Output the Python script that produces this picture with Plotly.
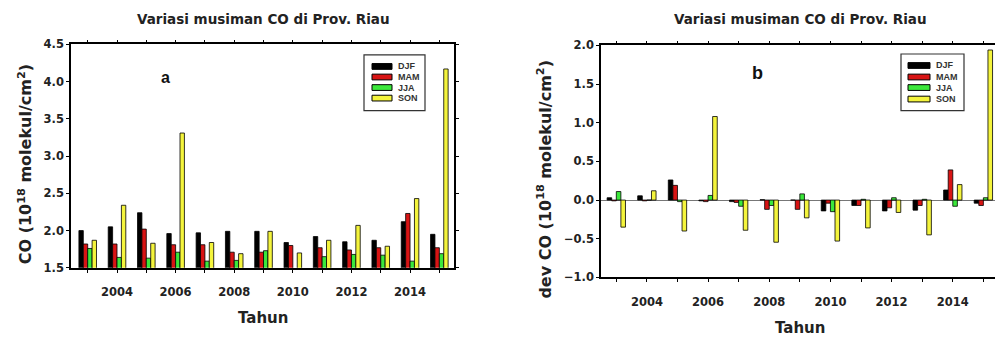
import plotly.graph_objects as go

W, H = 995, 341

years = [2003, 2004, 2005, 2006, 2007, 2008, 2009, 2010, 2011, 2012, 2013, 2014, 2015]
label_years = [2004, 2006, 2008, 2010, 2012, 2014]
seasons = ["DJF", "MAM", "JJA", "SON"]
colors = {"DJF": "#000000", "MAM": "#d81414", "JJA": "#3be83b", "SON": "#f4f43c"}

# Panel a: seasonal CO (10^18 molekul/cm^2)
co_djf = [2.00, 2.05, 2.24, 1.96, 1.97, 1.99, 1.99, 1.84, 1.92, 1.85, 1.87, 2.12, 1.95]
co_mam = [1.82, 1.82, 2.02, 1.81, 1.81, 1.71, 1.71, 1.80, 1.77, 1.74, 1.77, 2.23, 1.77]
co_jja = [1.76, 1.64, 1.63, 1.71, 1.59, 1.60, 1.73, 1.49, 1.65, 1.68, 1.67, 1.59, 1.69]
co_son = [1.87, 2.34, 1.83, 3.31, 1.84, 1.69, 1.99, 1.70, 1.87, 2.07, 1.79, 2.43, 4.17]

# Panel b: deviation of CO
dev_djf = [0.03, 0.055, 0.26, -0.01, -0.02, 0.005, 0.0, -0.14, -0.07, -0.14, -0.13, 0.13, -0.04]
dev_mam = [-0.01, -0.01, 0.19, -0.02, -0.03, -0.12, -0.12, -0.04, -0.07, -0.10, -0.07, 0.39, -0.07]
dev_jja = [0.11, 0.0, -0.02, 0.06, -0.08, -0.07, 0.08, -0.15, 0.01, 0.03, 0.01, -0.08, 0.03]
dev_son = [-0.35, 0.12, -0.40, 1.08, -0.39, -0.545, -0.23, -0.53, -0.36, -0.16, -0.45, 0.20, 1.94]

co = {"DJF": co_djf, "MAM": co_mam, "JJA": co_jja, "SON": co_son}
dev = {"DJF": dev_djf, "MAM": dev_mam, "JJA": dev_jja, "SON": dev_son}

def px(x):
    return x / W

def py(y):
    return 1 - y / H

fig = go.Figure()
for s in seasons:
    fig.add_trace(go.Bar(x=years, y=co[s], name=s, marker=dict(color=colors[s], line=dict(color="#000000", width=0.8)),
                         xaxis="x", yaxis="y", showlegend=False))
for s in seasons:
    fig.add_trace(go.Bar(x=years, y=dev[s], name=s, marker=dict(color=colors[s], line=dict(color="#000000", width=0.8)),
                         xaxis="x2", yaxis="y2", showlegend=False))

tickfont = dict(family="DejaVu Sans", size=11.5, color="#222222", weight="bold")
axis_common = dict(showline=True, linecolor="#000000", linewidth=1.5, ticks="outside", ticklen=3,
                   tickcolor="#000000", showgrid=False, tickfont=tickfont)
xminor = dict(dtick=1, tick0=2003, ticks="outside", ticklen=3, tickcolor="#000000", showgrid=False)

fig.update_layout(
    width=W, height=H, margin=dict(l=0, r=0, t=0, b=0),
    paper_bgcolor="white", plot_bgcolor="white",
    barmode="group", bargap=0.4, bargroupgap=0,
    xaxis=dict(domain=[px(71), px(454)], range=[2002.43, 2015.5], tickmode="array", tickvals=label_years,
               minor=xminor, mirror="ticks", anchor="y", zeroline=False, ticklabelstandoff=10, **axis_common),
    yaxis=dict(domain=[py(272), py(39)], range=[1.5, 4.5], dtick=0.5, tickformat=".1f",
               mirror="ticks", anchor="x", zeroline=False, **axis_common),
    xaxis2=dict(domain=[px(601), 1.0], range=[2002.5, 2015.38], tickmode="array", tickvals=label_years,
                minor=xminor, mirror="ticks", anchor="y2", zeroline=False, ticklabelstandoff=10, **axis_common),
    yaxis2=dict(domain=[py(282), py(40)], range=[-1.0, 2.0], dtick=0.5, tickformat=".1f",
                mirror=False, anchor="x2", zeroline=True, zerolinecolor="#777777", zerolinewidth=1.2,
                **axis_common),
)

ann = []
tfont = dict(family="DejaVu Sans", size=13.5, color="#222222")
ann.append(dict(text="<b>Variasi musiman CO di Prov. Riau</b>", x=px(263), y=py(12), font=tfont))
ann.append(dict(text="<b>Variasi musiman CO di Prov. Riau</b>", x=px(800), y=py(13), font=tfont))
afont = dict(family="DejaVu Sans", size=15, color="#222222")
ann.append(dict(text="<b>Tahun</b>", x=px(263), y=py(324), font=afont))
ann.append(dict(text="<b>Tahun</b>", x=px(800), y=py(335), font=afont))
yfont = dict(family="DejaVu Sans", size=16, color="#222222")
ann.append(dict(text="<b>CO (10<sup>18</sup> molekul/cm<sup>2</sup>)</b>", x=px(25), y=py(164), textangle=-90, font=yfont))
ann.append(dict(text="<b>dev CO (10<sup>18</sup> molekul/cm<sup>2</sup>)</b>", x=px(545), y=py(180), textangle=-90,
                font=dict(family="DejaVu Sans", size=16, color="#222222")))
ann.append(dict(text="<b>a</b>", x=px(165), y=py(74), font=dict(family="Liberation Sans", size=16, color="#111111")))
ann.append(dict(text="<b>b</b>", x=px(757), y=py(69), font=dict(family="Liberation Sans", size=18, color="#111111")))

shapes = []
# manual legends
legends = [
    dict(box=(364, 50, 425, 108), sw=(372, 392), ys=[62, 73, 84, 95], tx=396),
    dict(box=(901, 49, 964, 108), sw=(908, 930), ys=[61, 73, 84, 96], tx=934),
]
for lg in legends:
    x0, y0, x1, y1 = lg["box"]
    shapes.append(dict(type="rect", xref="paper", yref="paper", x0=px(x0), y0=py(y1), x1=px(x1), y1=py(y0),
                       line=dict(color="#333333", width=1.2), fillcolor="white", layer="above"))
    for s, yy in zip(seasons, lg["ys"]):
        shapes.append(dict(type="rect", xref="paper", yref="paper", x0=px(lg["sw"][0]), x1=px(lg["sw"][1]),
                           y0=py(yy + 3), y1=py(yy - 3), line=dict(color="#000000", width=1),
                           fillcolor=colors[s], layer="above"))
        ann.append(dict(text="<b>" + s + "</b>", x=px(lg["tx"]), y=py(yy), xanchor="left",
                        font=dict(family="Liberation Sans", size=9, color="#333333")))

for a in ann:
    a.setdefault("xref", "paper")
    a.setdefault("yref", "paper")
    a.setdefault("showarrow", False)
    a.setdefault("xanchor", "center")
    a.setdefault("yanchor", "middle")

fig.update_layout(annotations=ann, shapes=shapes)
fig.write_html("out.html")
